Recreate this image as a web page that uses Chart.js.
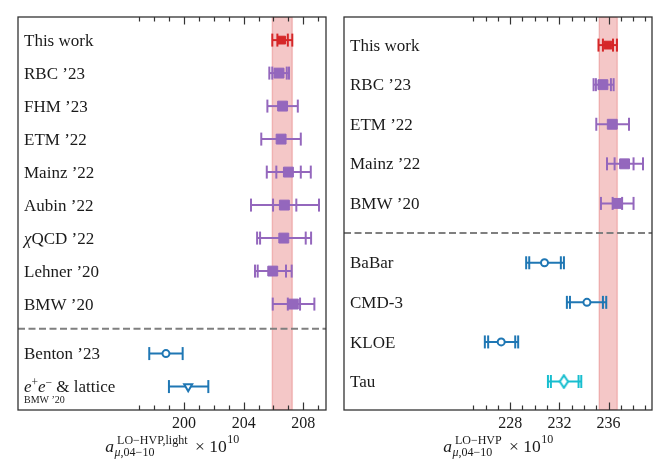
<!DOCTYPE html>
<html>
<head>
<meta charset="utf-8">
<script src="https://cdn.jsdelivr.net/npm/chart.js@4.4.0/dist/chart.umd.min.js"></script>
<style>
  body { margin: 0; background: #fff; }
  #wrap { display: flex; width: 670px; height: 475px; }
  canvas { display: block; }
</style>
</head>
<body>
<div id="wrap">
  <canvas id="left" width="335" height="475"></canvas>
  <canvas id="right" width="335" height="475"></canvas>
</div>
<script>
// ---- left panel: light-quark contribution ----
const leftLabels = ['This work', 'RBC ’23', 'FHM ’23', 'ETM ’22', 'Mainz ’22', 'Aubin ’22', 'χQCD ’22', 'Lehner ’20', 'BMW ’20', 'Benton ’23', 'e+e− & lattice'];
const leftNotes = ['', '', '', '', '', '', '', '', '', '', 'BMW ’20'];
const leftRows = [0, 1, 2, 3, 4, 5, 6, 7, 8, 9.5, 10.5];
const leftKinds = ['work', 'lattice', 'lattice', 'lattice', 'lattice', 'lattice', 'lattice', 'lattice', 'lattice', 'ee', 'eeLat'];
const leftValues = [206.55, 206.37, 206.61, 206.51, 207.00, 206.73, 206.69, 205.95, 207.33, 198.79, 200.28];
const leftOuterLo = [205.92, 205.72, 205.59, 205.18, 205.55, 204.49, 204.90, 204.76, 205.95, 197.67, 198.99];
const leftOuterHi = [207.26, 207.04, 207.63, 207.83, 208.50, 209.05, 208.52, 207.22, 208.74, 199.91, 201.63];
const leftInnerLo = [206.26, 205.92, null, null, 206.19, 205.97, 205.10, 204.94, 206.96, null, null];
const leftInnerHi = [206.96, 206.89, null, null, 207.83, 207.53, 208.16, 206.84, 207.78, null, null];
const leftBand = [205.92, 207.26];
const leftDivider = 8.75;
const leftTicks = [197, 198, 199, 200, 201, 202, 203, 204, 205, 206, 207, 208, 209];
const leftTickLabels = [200, 204, 208];

// ---- right panel: full window ----
const rightLabels = ['This work', 'RBC ’23', 'ETM ’22', 'Mainz ’22', 'BMW ’20', 'BaBar', 'CMD-3', 'KLOE', 'Tau'];
const rightNotes = ['', '', '', '', '', '', '', '', ''];
const rightRows = [0, 1, 2, 3, 4, 5.5, 6.5, 7.5, 8.5];
const rightKinds = ['work', 'lattice', 'lattice', 'lattice', 'lattice', 'ee', 'ee', 'ee', 'tau'];
const rightValues = [235.95, 235.54, 236.30, 237.30, 236.73, 230.79, 234.24, 227.27, 232.37];
const rightOuterLo = [235.18, 234.78, 235.00, 235.87, 235.38, 229.30, 232.61, 225.94, 231.07];
const rightOuterHi = [236.68, 236.41, 237.66, 238.80, 238.03, 232.37, 235.81, 228.65, 233.78];
const rightInnerLo = [235.54, 234.97, null, 236.49, 236.33, 229.55, 232.86, 226.21, 231.31];
const rightInnerHi = [236.36, 236.19, null, 238.03, 237.10, 232.12, 235.54, 228.41, 233.56];
const rightBand = [235.24, 236.71];
const rightDivider = 4.75;
const rightTicks = [225, 226, 227, 228, 229, 230, 231, 232, 233, 234, 235, 236, 237, 238, 239];
const rightTickLabels = [228, 232, 236];

const SERIF = "'Liberation Serif', 'DejaVu Serif', serif";
const INK = '#1a1a1a';

function thinDiamond(color) {
  const c = document.createElement('canvas');
  c.width = 11; c.height = 15;
  const g = c.getContext('2d');
  g.beginPath();
  g.moveTo(5.5, 1.2); g.lineTo(9.6, 7.5); g.lineTo(5.5, 13.8); g.lineTo(1.4, 7.5); g.closePath();
  g.fillStyle = '#fff'; g.fill();
  g.strokeStyle = color; g.lineWidth = 2; g.stroke();
  return c;
}

const kindStyle = {
  work:    { color: '#d62728', style: 'rect', fill: true, r: 5.5 },
  lattice: { color: '#9467bd', style: 'rect', fill: true, r: 7 },
  ee:      { color: '#1f77b4', style: 'circle', fill: false, r: 3.5 },
  eeLat:   { color: '#1f77b4', style: 'triangle', fill: false, r: 4.6, rot: 180 },
  tau:     { color: '#17becf', style: thinDiamond('#17becf'), fill: false, r: 6 }
};

function labelParts(text) {
  if (text.startsWith('χ')) return [{ t: 'χ', i: true }, { t: text.slice(1) }];
  if (text.startsWith('e+e−')) {
    return [{ t: 'e', i: true }, { t: '+', sup: true }, { t: 'e', i: true }, { t: '−', sup: true }, { t: text.slice(4) }];
  }
  return [{ t: text }];
}

function drawParts(ctx, parts, x, y, size) {
  let cx = x;
  parts.forEach(p => {
    const s = p.sup ? size * 0.68 : size;
    const dy = p.sup ? -size * 0.36 : 0;
    ctx.font = (p.i ? 'italic ' : '') + s + 'px ' + SERIF;
    ctx.fillText(p.t, cx, y + dy);
    cx += ctx.measureText(p.t).width;
  });
  return cx - x;
}

function makePanelPlugin(p) {
  return {
    id: 'panel',
    afterDraw(chart) {
      const { ctx, chartArea: a, scales: { x, y } } = chart;
      ctx.save();
      // inward ticks, top and bottom
      ctx.strokeStyle = '#333';
      ctx.lineWidth = 1.2;
      p.ticks.forEach(v => {
        const px = Math.round(x.getPixelForValue(v)) + 0.5;
        const len = p.tickLabels.includes(v) ? 7.5 : 4.5;
        ctx.beginPath();
        ctx.moveTo(px, a.bottom); ctx.lineTo(px, a.bottom - len);
        ctx.moveTo(px, a.top); ctx.lineTo(px, a.top + len);
        ctx.stroke();
      });
      ctx.lineWidth = 1.3;
      ctx.strokeRect(a.left, a.top, a.right - a.left, a.bottom - a.top);

      // row labels inside the frame
      ctx.fillStyle = INK;
      ctx.textBaseline = 'alphabetic';
      ctx.textAlign = 'left';
      p.labels.forEach((lab, i) => {
        const py = y.getPixelForValue(p.rows[i]);
        drawParts(ctx, labelParts(lab), a.left + 6, py + 5.6, 17);
        if (p.notes[i]) {
          ctx.font = '10px ' + SERIF;
          ctx.fillText(p.notes[i], a.left + 6, py + 16.5);
        }
      });

      // axis title a^{sup}_{sub} x 10^10
      const big = 17.5, small = 12;
      const base = a.bottom + 41.5;
      ctx.font = 'italic ' + big + 'px ' + SERIF;
      const wa = ctx.measureText('a').width;
      ctx.font = small + 'px ' + SERIF;
      const wsup = ctx.measureText(p.sup).width;
      const wsub = ctx.measureText(p.sub).width;
      const wexp = ctx.measureText('10').width;
      ctx.font = big + 'px ' + SERIF;
      const wx = ctx.measureText(' × 10').width;
      const group = Math.max(wsup + 3, wsub + 0.5) + 3;
      const total = wa + group + wx + wexp;
      let x0 = (a.left + a.right) / 2 - total / 2;
      ctx.font = 'italic ' + big + 'px ' + SERIF;
      ctx.fillText('a', x0, base);
      ctx.font = small + 'px ' + SERIF;
      ctx.fillText(p.sup, x0 + wa + 3, base - 8);
      ctx.font = 'italic ' + small + 'px ' + SERIF;
      ctx.fillText(p.sub.slice(0, 1), x0 + wa + 0.5, base + 4.5);
      const wmu = ctx.measureText(p.sub.slice(0, 1)).width;
      ctx.font = small + 'px ' + SERIF;
      ctx.fillText(p.sub.slice(1), x0 + wa + 0.5 + wmu, base + 4.5);
      x0 += wa + group;
      ctx.font = big + 'px ' + SERIF;
      ctx.fillText(' × 10', x0, base);
      ctx.font = small + 'px ' + SERIF;
      ctx.fillText('10', x0 + wx + 0.5, base - 8.5);
      ctx.restore();
    }
  };
}

function buildPanel(id, p) {
  const datasets = [];
  // highlighted band of this work
  datasets.push({
    data: [{ x: p.band[0], y: p.yMin }, { x: p.band[1], y: p.yMin }, { x: p.band[1], y: p.yMax },
           { x: p.band[0], y: p.yMax }, { x: p.band[0], y: p.yMin }],
    showLine: true, fill: 'shape',
    backgroundColor: 'rgba(214,39,40,0.26)', borderColor: 'rgba(214,39,40,0.22)', borderWidth: 1.5,
    pointRadius: 0, order: 5
  });
  // dashed divider between lattice and data-driven results
  datasets.push({
    data: [{ x: p.xMin, y: p.divider }, { x: p.xMax, y: p.divider }],
    showLine: true, borderColor: '#7f7f7f', borderWidth: 2, borderDash: [7, 3.5],
    pointRadius: 0, order: 4
  });
  p.values.forEach((v, i) => {
    const k = kindStyle[p.kinds[i]];
    const row = p.rows[i];
    datasets.push({
      data: [{ x: p.lo[i], y: row }, { x: p.hi[i], y: row }],
      showLine: true, borderColor: k.color, borderWidth: 2,
      pointStyle: 'line', pointRotation: 90, pointRadius: 6.5,
      pointBorderWidth: 2, pointBorderColor: k.color, order: 3
    });
    if (p.inLo[i] !== null) {
      datasets.push({
        data: [{ x: p.inLo[i], y: row }, { x: p.inHi[i], y: row }],
        showLine: false,
        pointStyle: 'line', pointRotation: 90, pointRadius: 6.5,
        pointBorderWidth: 2, pointBorderColor: k.color, order: 2
      });
    }
    datasets.push({
      data: [{ x: v, y: row }],
      pointStyle: k.style, pointRadius: k.r, pointRotation: k.rot || 0,
      pointBorderWidth: k.fill ? 1 : 2, pointBorderColor: k.color,
      pointBackgroundColor: k.fill ? k.color : '#fff', order: 1
    });
  });

  new Chart(document.getElementById(id), {
    type: 'scatter',
    data: { datasets: datasets },
    options: {
      responsive: false,
      animation: false,
      events: [],
      layout: { padding: p.padding },
      plugins: { legend: { display: false }, tooltip: { enabled: false } },
      scales: {
        x: {
          type: 'linear', min: p.xMin, max: p.xMax,
          afterBuildTicks: s => { s.ticks = p.tickLabels.map(v => ({ value: v })); },
          afterFit: s => { s.height = 65; },
          grid: { display: false, drawTicks: false },
          border: { display: false },
          ticks: { autoSkip: false, maxRotation: 0, padding: 4, color: INK, font: { family: SERIF, size: 16 } }
        },
        y: { type: 'linear', reverse: true, min: p.yMin, max: p.yMax, display: false }
      }
    },
    plugins: [makePanelPlugin(p)]
  });
}

buildPanel('left', {
  labels: leftLabels, notes: leftNotes, rows: leftRows, kinds: leftKinds, values: leftValues,
  lo: leftOuterLo, hi: leftOuterHi, inLo: leftInnerLo, inHi: leftInnerHi,
  band: leftBand, divider: leftDivider, ticks: leftTicks, tickLabels: leftTickLabels,
  xMin: 188.87, xMax: 209.52, yMin: -0.7, yMax: 11.21,
  padding: { left: 18, right: 9, top: 17, bottom: 0 },
  sup: 'LO−HVP,light', sub: 'μ,04−10'
});

buildPanel('right', {
  labels: rightLabels, notes: rightNotes, rows: rightRows, kinds: rightKinds, values: rightValues,
  lo: rightOuterLo, hi: rightOuterHi, inLo: rightInnerLo, inHi: rightInnerHi,
  band: rightBand, divider: rightDivider, ticks: rightTicks, tickLabels: rightTickLabels,
  xMin: 214.49, xMax: 239.53, yMin: -0.71, yMax: 9.22,
  padding: { left: 9, right: 18, top: 17, bottom: 0 },
  sup: 'LO−HVP', sub: 'μ,04−10'
});
</script>
</body>
</html>
